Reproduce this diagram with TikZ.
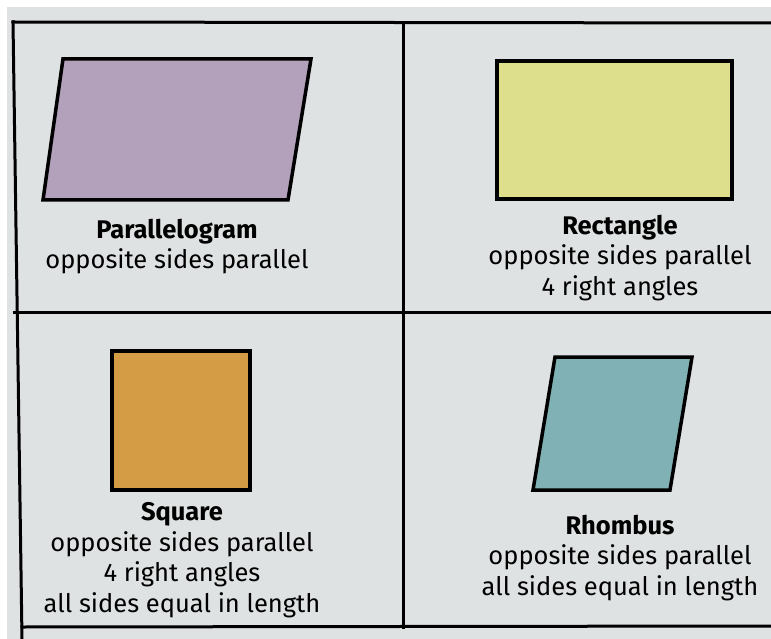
\documentclass[tikz,border=0pt]{standalone}
\usepackage{fontspec}
\setmainfont{Fira Sans}
\usetikzlibrary{positioning}
\definecolor{Paper}{HTML}{DFE2E2}
\definecolor{Lilac}{HTML}{B3A0BA}
\definecolor{Lemon}{HTML}{DEDF8C}
\definecolor{Ochre}{HTML}{D39C45}
\definecolor{Teal}{HTML}{80B2B5}

\begin{document}
\begin{tikzpicture}[x=1pt,y=-1pt,
    grid/.style={line width=3pt,line cap=rect},
    quad/.style={draw=black,line width=3.5pt,line join=miter},
    desc/.style={align=center,inner sep=0pt,anchor=base,
      font=\fontsize{25.5}{30.5}\selectfont}]
  \useasboundingbox (0,0) rectangle (771,639);
  \fill[white] (0,0) rectangle (771,639);
  \fill[Paper] (7,7) rectangle (771,639);

  % the table
  \draw[grid] (13,22) -- (771,23);
  \draw[grid] (14,312) -- (771,312);
  \draw[grid] (22,627) -- (771,626);
  \draw[grid] (13,22) -- (22,639);
  \draw[grid] (403,23) -- (403,627);

  % the four figures
  \draw[quad,fill=Lilac] (63,59) -- (311,59) -- (288,200) -- (43,200) -- cycle;
  \draw[quad,fill=Lemon] (497,61) rectangle (732,199);
  \draw[quad,fill=Ochre] (112,351) rectangle (250,490);
  \draw[quad,fill=Teal] (555,357) -- (692,357) -- (670,490) -- (533,490) -- cycle;

  % the names (anchored on the last line)
  \node[desc] (para) at (177,269) {\textbf{Parallelogram}\\opposite sides parallel};
  \node[desc] (rect) at (620,295) {\textbf{Rectangle}\\opposite sides parallel\\4 right angles};
  \node[desc] (sq) at (182,612) {\textbf{Square}\\opposite sides parallel\\4 right angles\\all sides equal in length};
  \node[desc] (rhom) at (620,595) {\textbf{Rhombus}\\opposite sides parallel\\all sides equal in length};
\end{tikzpicture}
\end{document}
